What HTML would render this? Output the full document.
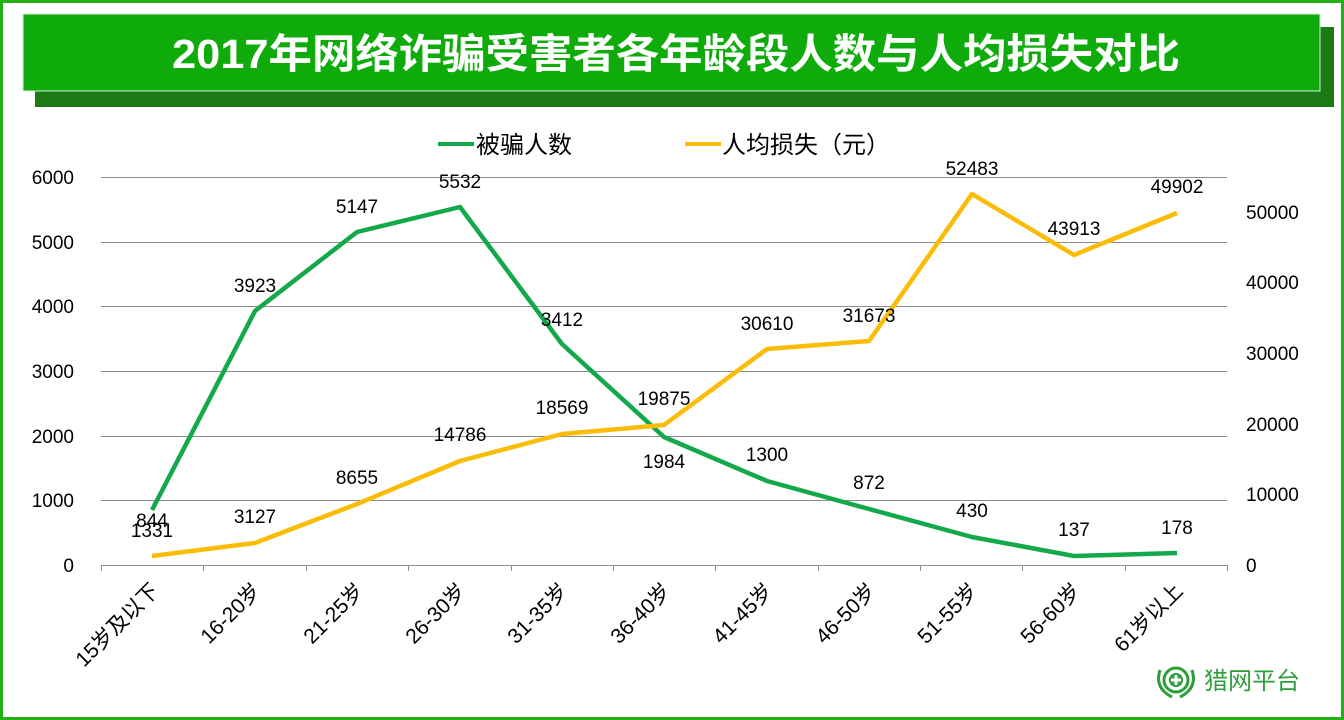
<!DOCTYPE html>
<html><head><meta charset="utf-8"><style>
html,body{margin:0;padding:0;background:#fff}
svg{display:block;font-family:"Liberation Sans","Noto Sans CJK SC",sans-serif}
</style></head><body>
<svg width="1344" height="720" viewBox="0 0 1344 720">
<rect x="1.5" y="1.5" width="1341" height="717" fill="#fff" stroke="#22b014" stroke-width="3"/>
<rect x="35" y="27" width="1299" height="80" fill="#1a7a14"/>
<rect x="23" y="14" width="1297" height="77" fill="#0eab0b" stroke="#d8efd8" stroke-width="1"/>
<text x="172" y="68" font-size="41" font-weight="bold" fill="#fff" textLength="1008" lengthAdjust="spacingAndGlyphs">2017年网络诈骗受害者各年龄段人数与人均损失对比</text>
<!-- legend -->
<line x1="438" y1="144" x2="474" y2="144" stroke="#13a84a" stroke-width="4"/>
<text x="476" y="153" font-size="24" fill="#000">被骗人数</text>
<line x1="685" y1="144" x2="721" y2="144" stroke="#fbbc05" stroke-width="4"/>
<text x="722" y="153" font-size="24" fill="#000">人均损失（元）</text>
<!-- grid -->
<g stroke="#8c8c8c" stroke-width="1">
<line x1="101" y1="177.5" x2="1227" y2="177.5"/>
<line x1="101" y1="242.5" x2="1227" y2="242.5"/>
<line x1="101" y1="306.5" x2="1227" y2="306.5"/>
<line x1="101" y1="371.5" x2="1227" y2="371.5"/>
<line x1="101" y1="436.5" x2="1227" y2="436.5"/>
<line x1="101" y1="500.5" x2="1227" y2="500.5"/>
<line x1="101" y1="565.5" x2="1227" y2="565.5"/>
<line x1="101.5" y1="565" x2="101.5" y2="571"/><line x1="203.5" y1="565" x2="203.5" y2="571"/><line x1="306.5" y1="565" x2="306.5" y2="571"/><line x1="408.5" y1="565" x2="408.5" y2="571"/><line x1="511.5" y1="565" x2="511.5" y2="571"/><line x1="613.5" y1="565" x2="613.5" y2="571"/><line x1="715.5" y1="565" x2="715.5" y2="571"/><line x1="818.5" y1="565" x2="818.5" y2="571"/><line x1="920.5" y1="565" x2="920.5" y2="571"/><line x1="1022.5" y1="565" x2="1022.5" y2="571"/><line x1="1125.5" y1="565" x2="1125.5" y2="571"/><line x1="1227.5" y1="565" x2="1227.5" y2="571"/>
</g>
<g font-size="19" fill="#000" text-anchor="end">
<text x="74" y="184">6000</text><text x="74" y="249">5000</text><text x="74" y="313">4000</text><text x="74" y="378">3000</text><text x="74" y="443">2000</text><text x="74" y="507">1000</text><text x="74" y="572">0</text>
</g>
<g font-size="19" fill="#000" text-anchor="start">
<text x="1246" y="219">50000</text><text x="1246" y="289">40000</text><text x="1246" y="360">30000</text><text x="1246" y="431">20000</text><text x="1246" y="501">10000</text><text x="1246" y="572">0</text>
</g>
<g font-size="21" fill="#000" text-anchor="end">
<text transform="translate(160,592) rotate(-45)">15岁及以下</text>
<text transform="translate(262,592) rotate(-45)">16-20岁</text>
<text transform="translate(365,592) rotate(-45)">21-25岁</text>
<text transform="translate(467,592) rotate(-45)">26-30岁</text>
<text transform="translate(569,592) rotate(-45)">31-35岁</text>
<text transform="translate(672,592) rotate(-45)">36-40岁</text>
<text transform="translate(774,592) rotate(-45)">41-45岁</text>
<text transform="translate(877,592) rotate(-45)">46-50岁</text>
<text transform="translate(979,592) rotate(-45)">51-55岁</text>
<text transform="translate(1082,592) rotate(-45)">56-60岁</text>
<text transform="translate(1184,592) rotate(-45)">61岁以上</text>
</g>
<polyline fill="none" stroke="#13a84a" stroke-width="4.5" stroke-linejoin="round" points="152,510 255,311 357,232 460,207 562,344 664,437 767,481 869,509 972,537 1074,556 1177,553"/>
<polyline fill="none" stroke="#fbbc05" stroke-width="4.5" stroke-linejoin="round" points="152,556 255,543 357,504 460,461 562,434 664,425 767,349 869,341 972,194 1074,255 1177,213"/>
<g font-size="19" fill="#000" text-anchor="middle">
<text x="152" y="527">844</text><text x="255" y="292">3923</text><text x="357" y="213">5147</text><text x="460" y="188">5532</text><text x="562" y="326">3412</text><text x="664" y="468">1984</text><text x="767" y="461">1300</text><text x="869" y="489">872</text><text x="972" y="517">430</text><text x="1074" y="536">137</text><text x="1177" y="534">178</text>
<text x="152" y="537">1331</text><text x="255" y="523">3127</text><text x="357" y="484">8655</text><text x="460" y="441">14786</text><text x="562" y="414">18569</text><text x="664" y="405">19875</text><text x="767" y="330">30610</text><text x="869" y="322">31673</text><text x="972" y="175">52483</text><text x="1074" y="235">43913</text><text x="1177" y="193">49902</text>
</g>
<!-- logo -->
<g transform="translate(1176,680)">
<path d="M-16,-10 Q-22,8 -4,17" fill="none" stroke="#2e9e3c" stroke-width="3"/>
<path d="M16,-10 Q22,8 4,17" fill="none" stroke="#2e9e3c" stroke-width="3"/>
<circle cx="0" cy="0" r="12" fill="none" stroke="#2e9e3c" stroke-width="3"/>
<circle cx="0" cy="0" r="7" fill="#2e9e3c"/>
<rect x="-1.5" y="-5" width="3" height="10" fill="#fff"/><rect x="-5" y="-1.5" width="10" height="3" fill="#fff"/>
</g>
<text x="1204" y="689" font-size="24" fill="#2e9e3c">猎网平台</text>
</svg>
</body></html>
